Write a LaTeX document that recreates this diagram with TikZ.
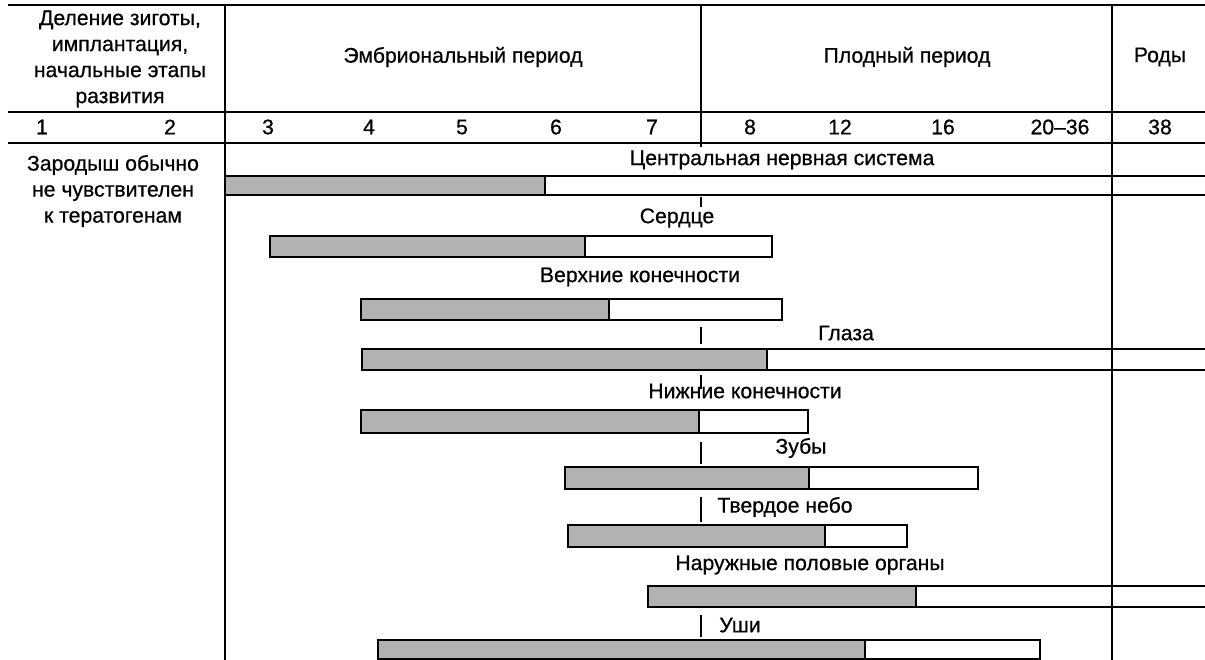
\documentclass[tikz,border=0pt]{standalone}
\usepackage{fontspec}
\setmainfont{Liberation Sans}[BoldFont={Liberation Sans},BoldFeatures={FakeBold=0.6}]
\begin{document}
\begin{tikzpicture}[x=1pt,y=-1pt,
  lbl/.style={font=\fontsize{21.2}{26}\selectfont\bfseries, inner sep=0pt, align=center},
  rule/.style={line width=2.2pt},
  barline/.style={line width=2.4pt},
  gfill/.style={fill=black!30},
  tick/.style={line width=2pt}]
\useasboundingbox[fill=white] (0,0) rectangle (1205,660);
% grid
\draw[rule] (8,5) -- (1205,5);
\draw[rule] (8,112) -- (1205,112);
\draw[rule] (8,143) -- (1205,143);
\draw[rule] (225,5) -- (225,660);
\draw[rule] (1112,5) -- (1112,660);
\draw[rule] (701,5) -- (701,147);
% header
\node[lbl] (h1) at (120,59) {Деление зиготы,\\имплантация,\\начальные этапы\\развития};
\node[lbl] (h2) at (463,57) {Эмбриональный период};
\node[lbl] (h3) at (907,57) {Плодный период};
\node[lbl] (h4) at (1160,57) {Роды};
% weeks
\foreach \x/\t [count=\i] in {42/1,170/2,268/3,369/4,462/5,556/6,652/7,750/8,840/12,943/16,1060/{20--36},1160/38}
  \node[lbl] (w\i) at (\x,127) {\t};
\node[lbl] (insens) at (113,191) {Зародыш обычно\\не чувствителен\\к тератогенам};
% CNS
\node[lbl] (l1) at (782,160) {Центральная нервная система};
\fill[gfill] (225,176) rectangle (545,195);
\draw[barline] (1205,176) -- (225,176) -- (225,195) -- (1205,195);
\draw[barline] (545,176) -- (545,195);
% Heart
\node[lbl] (l2) at (677,218) {Сердце};
\fill[gfill] (270,236) rectangle (585,257);
\draw[barline] (270,236) rectangle (772,257);
\draw[barline] (585,236) -- (585,257);
% Upper limbs
\node[lbl] (l3) at (640,277) {Верхние конечности};
\fill[gfill] (361,299) rectangle (609,320);
\draw[barline] (361,299) rectangle (782,320);
\draw[barline] (609,299) -- (609,320);
% Eyes
\node[lbl] (l4) at (846,333) {Глаза};
\fill[gfill] (362,349) rectangle (767,370);
\draw[barline] (1205,349) -- (362,349) -- (362,370) -- (1205,370);
\draw[barline] (767,349) -- (767,370);
% Lower limbs
\node[lbl] (l5) at (745,391) {Нижние конечности};
\fill[gfill] (361,410) rectangle (699,433);
\draw[barline] (361,410) rectangle (808,433);
\draw[barline] (699,410) -- (699,433);
% Teeth
\node[lbl] (l6) at (801,448) {Зубы};
\fill[gfill] (565,467) rectangle (809,489);
\draw[barline] (565,467) rectangle (978,489);
\draw[barline] (809,467) -- (809,489);
% Hard palate
\node[lbl] (l7) at (785,507) {Твердое небо};
\fill[gfill] (568,525) rectangle (825,547);
\draw[barline] (568,525) rectangle (907,547);
\draw[barline] (825,525) -- (825,547);
% External genitals
\node[lbl] (l8) at (810,565) {Наружные половые органы};
\fill[gfill] (648,586) rectangle (916,607);
\draw[barline] (1205,586) -- (648,586) -- (648,607) -- (1205,607);
\draw[barline] (916,586) -- (916,607);
% Ears
\node[lbl] (l9) at (740,625) {Уши};
\fill[gfill] (378,640) rectangle (865,660);
\draw[barline] (378,640) rectangle (1040,659);
\draw[barline] (865,640) -- (865,660);
% ticks of the 8-week line
\foreach \a/\b in {197/207,327/344,375/389,442/464,497/522,615/637}
  \draw[tick] (701,\a) -- (701,\b);
\end{tikzpicture}
\end{document}
